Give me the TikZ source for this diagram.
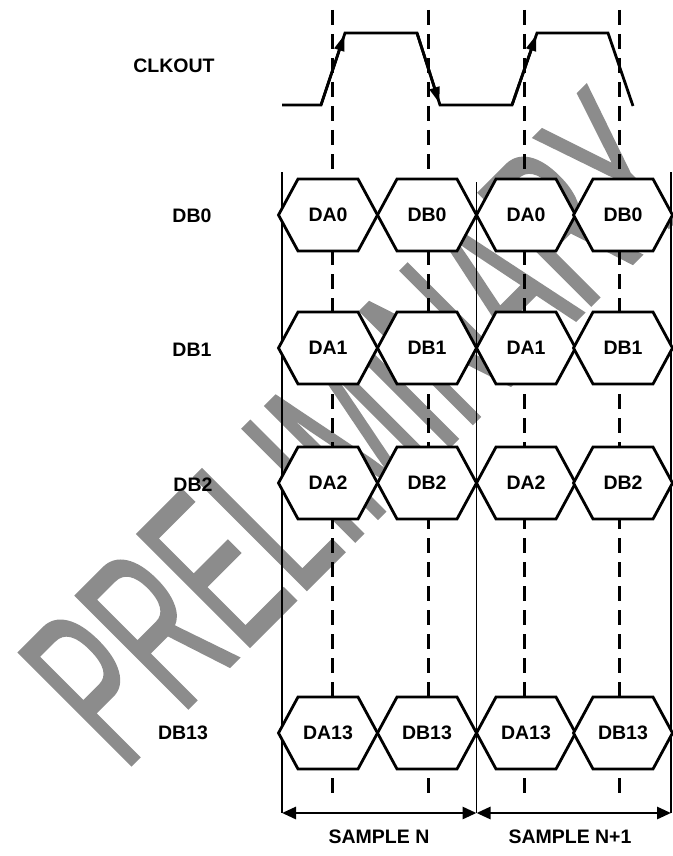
\documentclass[tikz,border=0pt]{standalone}
\usepackage{fontspec}
\setmainfont{Liberation Sans}
\newfontfamily\wmfont[FakeStretch=0.52,FakeBold=0.8]{Liberation Sans}
\usetikzlibrary{arrows.meta}
\definecolor{wm}{gray}{0.55}
\begin{document}
\begin{tikzpicture}[x=1pt,y=-1pt,
  lbl/.style={font=\fontsize{19.5}{20}\selectfont\bfseries, inner sep=0pt},
  hexline/.style={line width=2.8pt, fill=white, line join=miter},
  vline/.style={line width=1.3pt},
  dashv/.style={line width=3pt, dash pattern=on 15pt off 9pt},
  clk/.style={line width=2.8pt, line join=miter},
  clkarrow/.style={line width=2.8pt, -{Triangle[length=16pt,width=10pt]}, shorten >=2pt},
  sampar/.style={line width=2.8pt, {Triangle[length=14pt,width=12pt]}-{Triangle[length=14pt,width=12pt]}}
]
\fill[white] (0,0) rectangle (672,856);
\useasboundingbox (0,0) rectangle (672,856);
% watermark
\node[rotate=45, text=wm, inner sep=0pt, font={\wmfont\fontsize{232}{232}\selectfont}] (wmk) at (356.5,427.5) {PRELIMINARY};
% dashed sampling lines
\foreach \x/\n in {332/a,428/b,524/c,619/d} {
  \coordinate (dt\n) at (\x,10);
  \coordinate (db\n) at (\x,795);
  \draw[dashv] (dt\n) -- (db\n);
}
% solid frame lines
\coordinate (s1t) at (282,172);   \coordinate (s1b) at (282,813);
\coordinate (s2t) at (476.5,182); \coordinate (s2b) at (476.5,813);
\coordinate (s3t) at (671,172);   \coordinate (s3b) at (671,813);
\draw[vline] (s1t) -- (s1b);
\draw[vline] (s2t) -- (s2b);
\draw[vline] (s3t) -- (s3b);
% clock waveform
\coordinate (c0) at (282,105);
\coordinate (c1) at (321,105);
\coordinate (c2) at (345,33);
\coordinate (c3) at (417,33);
\coordinate (c4) at (440,105);
\coordinate (c5) at (512,105);
\coordinate (c6) at (537,33);
\coordinate (c7) at (608,33);
\coordinate (c8) at (633,106);
\draw[clk] (c0) -- (c1) -- (c2) -- (c3) -- (c4) -- (c5) -- (c6) -- (c7) -- (c8);
\draw[clkarrow] (c1) -- (c2);
\draw[clkarrow] (c3) -- (c4);
\draw[clkarrow] (c5) -- (c6);
% data hexagons
\foreach \r/\y/\k in {0/215/0,1/348/1,2/483/2,3/733/13} {
  \foreach \c/\x/\t in {1/328/A,2/427/B,3/526/A,4/623/B} {
    \draw[hexline] (\x-49.5,\y) -- (\x-30,\y-36) -- (\x+30,\y-36) -- (\x+49.5,\y) -- (\x+30,\y+36) -- (\x-30,\y+36) -- cycle;
    \node[lbl] (h\r\c) at (\x,\y) {D\t\k};
  }
}
% row labels
\node[lbl] (lclk) at (174,66) {CLKOUT};
\node[lbl] (ldb0) at (192,216) {DB0};
\node[lbl] (ldb1) at (192,350) {DB1};
\node[lbl] (ldb2) at (193,485) {DB2};
\node[lbl] (ldb13) at (183,733) {DB13};
% sample arrows
\draw[sampar] (s1b) -- (s2b);
\draw[sampar] (s2b) -- (s3b);
\node[lbl] (sn) at (379,837) {SAMPLE N};
\node[lbl] (sn1) at (570,837) {SAMPLE N+1};
\end{tikzpicture}
\end{document}
